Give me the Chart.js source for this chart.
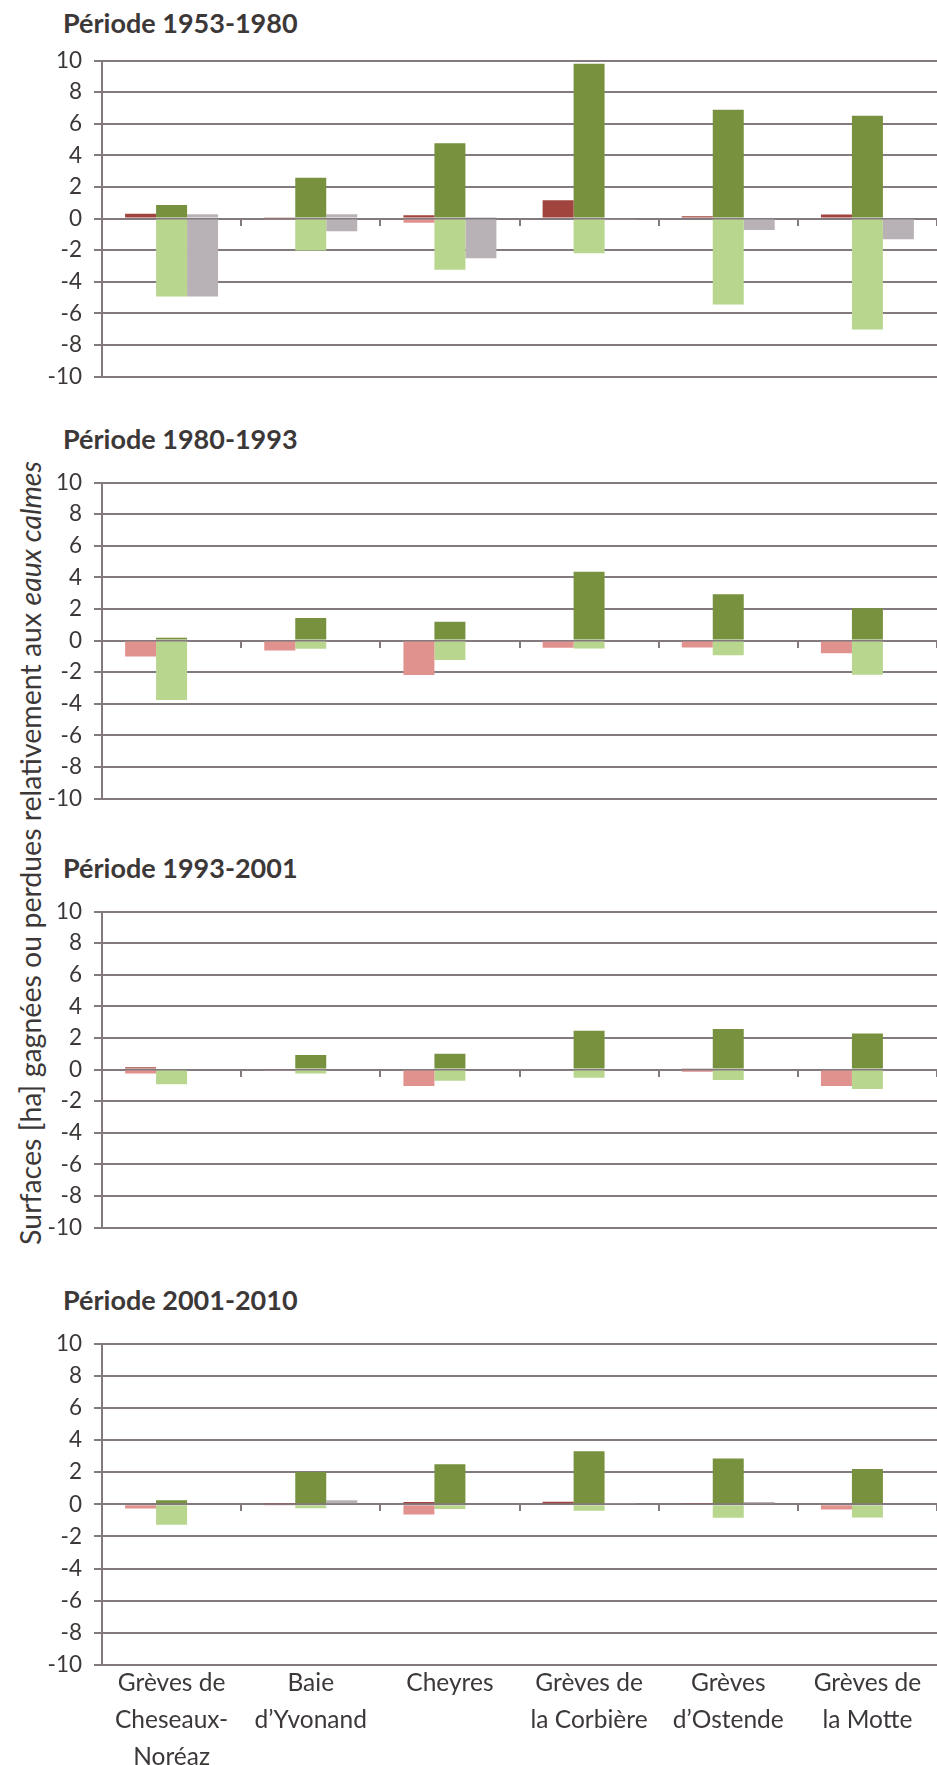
<!DOCTYPE html>
<html>
<head>
<meta charset="utf-8">
<script src="https://cdn.jsdelivr.net/npm/chart.js@4.4.1/dist/chart.umd.min.js"></script>
<style>
  html, body { margin: 0; padding: 0; background: #ffffff; width: 937px; height: 1765px; overflow: hidden; }
  .wrap { position: absolute; left: 0; width: 937px; }
  .ptitle { position: absolute; left: 63px; font-family: Lato, sans-serif; font-weight: bold; font-size: 27px; line-height: 27px; color: #3d3838; white-space: nowrap; }
  #ylab { position: absolute; left: 30px; top: 853px; transform: translate(-50%, -50%) rotate(-90deg); font-family: Lato, sans-serif; font-size: 28.5px; color: #3d3838; white-space: nowrap; }
</style>
</head>
<body>
<script>
// ---------- data ----------
const categories = [
  ["Grèves de", "Cheseaux-", "Noréaz"],
  ["Baie", "d\u2019Yvonand"],
  "Cheyres",
  ["Grèves de", "la Corbière"],
  ["Grèves", "d\u2019Ostende"],
  ["Grèves de", "la Motte"]
];
const periods = ["Période 1953-1980", "Période 1980-1993", "Période 1993-2001", "Période 2001-2010"];
const yTicks = [-10, -8, -6, -4, -2, 0, 2, 4, 6, 8, 10];

// one row per period, one value per category (ha)
const redGain = [
  [0.30, 0.08, 0.20, 1.15, 0.15, 0.25],
  [0, 0, 0, 0, 0, 0],
  [0.15, 0, 0, 0, 0.05, 0],
  [0, 0.05, 0.14, 0.16, 0.05, 0]
];
const redLoss = [
  [0, -0.05, -0.27, 0, 0, 0],
  [-1.02, -0.64, -2.18, -0.46, -0.44, -0.81],
  [-0.25, -0.08, -1.05, 0, -0.15, -1.05],
  [-0.27, -0.05, -0.63, 0, 0, -0.33]
];
const greenGain = [
  [0.85, 2.58, 4.76, 9.80, 6.88, 6.50],
  [0.17, 1.43, 1.18, 4.35, 2.93, 2.04],
  [0, 0.92, 1.00, 2.45, 2.57, 2.28],
  [0.25, 2.00, 2.49, 3.30, 2.85, 2.20]
];
const greenLoss = [
  [-4.93, -2.03, -3.25, -2.20, -5.45, -7.02],
  [-3.76, -0.52, -1.23, -0.50, -0.94, -2.16],
  [-0.94, -0.25, -0.71, -0.52, -0.67, -1.23],
  [-1.27, -0.25, -0.30, -0.41, -0.84, -0.82]
];
const greyGain = [
  [0.27, 0.27, 0.10, 0, 0, 0],
  [0, 0, 0, 0, 0, 0],
  [0, 0, 0, 0, 0, 0],
  [0, 0.25, 0, 0.05, 0.14, 0]
];
const greyLoss = [
  [-4.93, -0.80, -2.52, -0.05, -0.73, -1.32],
  [0, 0, 0, 0, 0, 0],
  [0, 0, 0, 0, 0, 0],
  [0, 0, 0, 0, 0, 0]
];

// ---------- styles ----------
const COL = {
  redDark: "#a0443d", redLight: "#e0928e",
  greenDark: "#77913f", greenLight: "#b8d68e",
  grey: "#b8b2b7",
  grid: "#837a7f", text: "#3d3838"
};
const plotTops = [55, 477, 906, 1338];
const plotH = 327;
const PAD = 20;
const Y_AXIS_W = 102;
const LABEL_BAND = 1765 - (plotTops[3] + plotH);

// y-axis title
const yl = document.createElement("div");
yl.id = "ylab";
yl.innerHTML = "Surfaces [ha] gagnées ou perdues relativement aux <i>eaux calmes</i>";
document.body.appendChild(yl);

const titleTops = [9, 425, 854, 1286];

periods.forEach((name, p) => {
  const last = p === periods.length - 1;
  const top = plotTops[p] - PAD;
  const h = last ? (1765 - top) : (plotH + 2 * PAD);

  const t = document.createElement("div");
  t.className = "ptitle";
  t.style.top = titleTops[p] + "px";
  t.textContent = name;
  document.body.appendChild(t);

  const w = document.createElement("div");
  w.className = "wrap";
  w.style.top = top + "px";
  w.style.height = h + "px";
  const c = document.createElement("canvas");
  c.width = 937; c.height = h;
  c.style.width = "937px"; c.style.height = h + "px";
  w.appendChild(c);
  document.body.appendChild(w);

  const mk = (label, data, color, stack) => ({
    label, data, backgroundColor: color, stack, borderWidth: 0,
    xAxisID: "x", yAxisID: "y", categoryPercentage: 0.668, barPercentage: 1.0
  });

  new Chart(c, {
    type: "bar",
    data: {
      labels: categories,
      datasets: [
        mk("redGain", redGain[p], COL.redDark, "r"),
        mk("redLoss", redLoss[p], COL.redLight, "r"),
        mk("greenGain", greenGain[p], COL.greenDark, "g"),
        mk("greenLoss", greenLoss[p], COL.greenLight, "g"),
        mk("greyGain", greyGain[p], COL.grey, "k"),
        mk("greyLoss", greyLoss[p], COL.grey, "k")
      ]
    },
    options: {
      responsive: false,
      animation: false,
      layout: { padding: { top: PAD, bottom: last ? 0 : PAD, left: 0, right: 0 } },
      plugins: { legend: { display: false }, tooltip: { enabled: false }, title: { display: false } },
      scales: {
        x: {
          type: "category", stacked: true, position: { y: 0 }, offset: true,
          grid: { display: true, offset: true, drawOnChartArea: false, drawTicks: true, tickLength: 7, color: COL.grid, lineWidth: 2 },
          border: { display: false },
          ticks: { display: false }
        },
        x2: {
          type: "category", labels: categories, position: "bottom", display: last, offset: true,
          grid: { display: false, drawTicks: false },
          border: { display: false },
          ticks: { color: COL.text, font: { family: "Lato", size: 24.5, lineHeight: 1.5 }, padding: 0, maxRotation: 0, minRotation: 0, autoSkip: false },
          afterFit: (s) => { if (last) s.height = LABEL_BAND; }
        },
        y: {
          type: "linear", stacked: true, min: yTicks[0], max: yTicks[yTicks.length - 1], position: "left",
          afterBuildTicks: (s) => { s.ticks = yTicks.map(v => ({ value: v })); },
          ticks: { color: COL.text, font: { family: "Lato", size: 22.5 }, padding: 12 },
          grid: { color: COL.grid, lineWidth: 2, tickLength: 8, drawTicks: true },
          border: { display: true, color: COL.grid, width: 2 },
          afterFit: (s) => { s.width = Y_AXIS_W; }
        }
      }
    }
  });
});
</script>
</body>
</html>
